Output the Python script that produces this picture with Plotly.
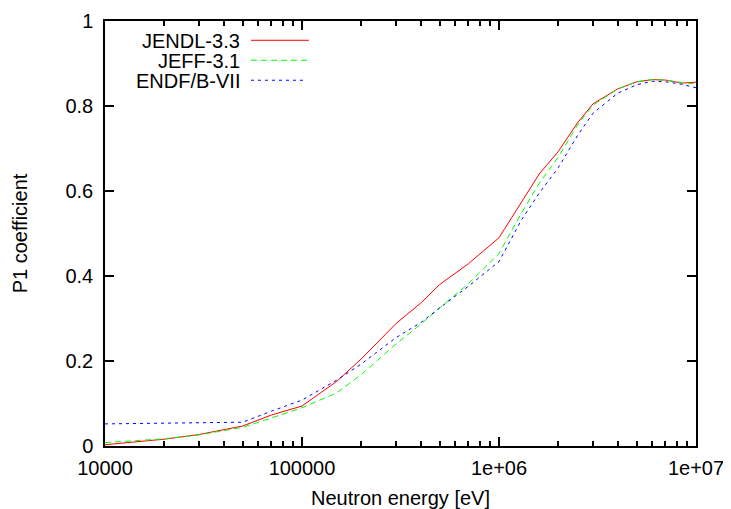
import plotly.graph_objects as go

# ---- data ----
energy_jendl = [1e4, 1.5e4, 2e4, 3e4, 5e4, 7e4, 1e5, 1.5e5, 2e5, 3e5, 4e5, 5e5, 7e5,
                1e6, 1.3e6, 1.6e6, 2e6, 2.5e6, 3e6, 4e6, 5e6, 6e6, 7e6, 8.5e6, 1e7]
p1_jendl = [0.003, 0.010, 0.016, 0.027, 0.047, 0.073, 0.094, 0.152, 0.205, 0.288, 0.336,
            0.380, 0.429, 0.490, 0.575, 0.640, 0.693, 0.760, 0.805, 0.840, 0.857, 0.862,
            0.861, 0.854, 0.856]

energy_jeff = [1e4, 2e4, 3e4, 5e4, 7e4, 1e5, 1.5e5, 2e5, 3e5, 4e5, 5e5, 7e5,
               1e6, 1.3e6, 1.6e6, 2e6, 2.5e6, 3e6, 4e6, 5e6, 6e6, 7e6, 8.5e6, 1e7]
p1_jeff = [0.008, 0.017, 0.026, 0.044, 0.066, 0.090, 0.125, 0.168, 0.240, 0.286, 0.325,
           0.382, 0.453, 0.548, 0.618, 0.680, 0.755, 0.802, 0.840, 0.857, 0.862, 0.861,
           0.855, 0.852]

energy_endf = [1e4, 2e4, 3e4, 5e4, 7e4, 1e5, 1.5e5, 2e5, 3e5, 4e5, 5e5, 7e5,
               1e6, 1.3e6, 1.6e6, 2e6, 2.5e6, 3e6, 4e6, 5e6, 6e6, 7e6, 8.5e6, 1e7]
p1_endf = [0.052, 0.053, 0.054, 0.056, 0.082, 0.108, 0.155, 0.193, 0.255, 0.290, 0.325,
           0.376, 0.434, 0.532, 0.595, 0.655, 0.730, 0.783, 0.830, 0.850, 0.858, 0.857,
           0.851, 0.843]

series_names = ["JENDL-3.3", "JEFF-3.1", "ENDF/B-VII"]
series_colors = ["#ff0000", "#00ff00", "#0000ff"]
series_dash = ["solid", "6px,4px", "3px,4px"]

x_tickvals = [1e4, 1e5, 1e6, 1e7]
x_ticktext = ["10000", "100000", "1e+06", "1e+07"]
x_minor_vals = [m * 10 ** d for d in (4, 5, 6) for m in range(2, 10)]

FONT = "Liberation Sans, Arial, sans-serif"

fig = go.Figure()
for xs, ys, name, col, dash in zip(
        [energy_jendl, energy_jeff, energy_endf],
        [p1_jendl, p1_jeff, p1_endf],
        series_names, series_colors, series_dash):
    fig.add_trace(go.Scatter(x=xs, y=ys, mode="lines", name=name,
                             line=dict(color=col, width=1, dash=dash),
                             showlegend=False))

# manual gnuplot-style legend (text right-aligned, sample to the right)
leg_y = [0.9546, 0.9076, 0.8606]
for i, (name, col, dash) in enumerate(zip(series_names, series_colors, series_dash)):
    fig.add_annotation(x=0.2300, y=leg_y[i], xref="paper", yref="paper",
                       text=name, showarrow=False, xanchor="right", yanchor="middle",
                       height=19, borderpad=0,
                       font=dict(family=FONT, size=20, color="#000000"))
    fig.add_shape(type="line", xref="paper", yref="paper",
                  x0=0.247, x1=0.345 if i < 2 else 0.336, y0=leg_y[i], y1=leg_y[i],
                  line=dict(color=col, width=1, dash=dash))

axis_common = dict(showline=True, linecolor="#000000", linewidth=1.5, mirror="ticks",
                   ticks="inside", tickcolor="#000000", tickwidth=1.5, ticklen=9,
                   showgrid=False, zeroline=False, automargin=False,
                   tickfont=dict(family=FONT, size=20, color="#000000"))

fig.update_xaxes(type="log", range=[4, 7], tickvals=x_tickvals, ticktext=x_ticktext,
                 minor=dict(ticks="inside", ticklen=5, tickwidth=1.5, tickcolor="#000000",
                            tickmode="array", tickvals=x_minor_vals, showgrid=False),
                 title=dict(text="Neutron energy [eV]", standoff=14,
                            font=dict(family=FONT, size=20, color="#000000")),
                 ticklabelstandoff=3,
                 **axis_common)
fig.update_yaxes(range=[0, 1], dtick=0.2,
                 title=dict(text="P1 coefficient", standoff=32,
                            font=dict(family=FONT, size=20, color="#000000")),
                 ticklabelstandoff=6,
                 **axis_common)

# page body adds an 8px offset; margins compensate so the plot area lands
# at x 105..696, y 21..446 of the 731x509 window
fig.update_layout(width=717, height=501,
                  margin=dict(l=97, r=29, t=13, b=63),
                  paper_bgcolor="#ffffff", plot_bgcolor="#ffffff",
                  font=dict(family=FONT, size=20, color="#000000"))

fig.write_html("out.html")
